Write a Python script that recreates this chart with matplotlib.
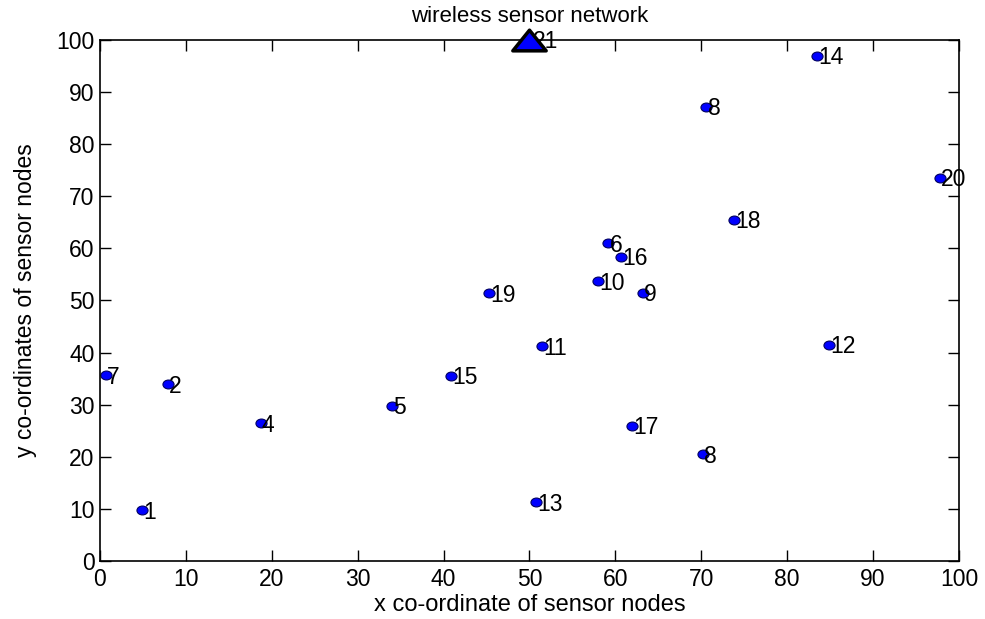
import numpy as np
import matplotlib
matplotlib.use("Agg")
import matplotlib.pyplot as plt
from matplotlib.path import Path

plt.rcParams['font.family'] = ['Liberation Sans', 'DejaVu Sans']

# coordenadas de los nodos sensores
node_x = [4.9, 7.9, 18.7, 34.0, 59.2, 0.7, 70.6, 63.2, 58.0, 51.5,
          84.9, 50.8, 83.5, 40.9, 60.7, 61.9, 73.8, 45.3, 97.8, 70.2]
node_y = [9.8, 33.9, 26.5, 29.8, 61.0, 35.7, 87.2, 51.5, 53.7, 41.2,
          41.5, 11.3, 97.0, 35.6, 58.4, 26.0, 65.5, 51.4, 73.6, 20.5]
node_labels = ['1', '2', '4', '5', '6', '7', '8', '9', '10', '11',
               '12', '13', '14', '15', '16', '17', '18', '19', '20', '8']

# estacion base
sink_x = [50]
sink_y = [100]
sink_label = '21'

fig = plt.figure(figsize=(9.85, 6.19), dpi=100)
ax = fig.add_axes([0.1015, 0.0937, 0.872, 0.8417])

# marcador elipse un poco aplastado, como en la figura original
ell = Path.unit_circle()
ell = Path(ell.vertices * np.array([1.0, 0.8]), ell.codes)
ax.plot(node_x, node_y, linestyle='none', marker=ell, color='blue',
        markeredgecolor='#000060', markersize=8, markeredgewidth=0.8)
for x, y, t in zip(node_x, node_y, node_labels):
    ax.text(x + 0.15, y - 0.4, t, ha='left', va='center', fontsize=16.5)

tri = Path([(-1, -0.62), (1, -0.62), (0, 0.62), (-1, -0.62)],
           [Path.MOVETO, Path.LINETO, Path.LINETO, Path.CLOSEPOLY])
ax.plot(sink_x, sink_y, linestyle='none', marker=tri, color='blue',
        markeredgecolor='black', markersize=24, markeredgewidth=2.5,
        clip_on=False, zorder=5)
ax.text(sink_x[0] + 0.4, sink_y[0] - 0.2, sink_label, ha='left',
        va='center', fontsize=16.5, zorder=4, clip_on=False)

ax.set_xlim(0, 100)
ax.set_ylim(0, 100)
ax.set_xticks(np.arange(0, 101, 10))
ax.set_yticks(np.arange(0, 101, 10))
ax.tick_params(direction='in', top=True, right=True, length=8,
               width=1.0, labelsize=16.5)
ax.tick_params(axis='x', pad=5)
ax.tick_params(axis='y', pad=4)
for s in ax.spines.values():
    s.set_linewidth(1.2)

ax.set_xlabel('x co-ordinate of sensor nodes', fontsize=17, labelpad=2)
ax.set_ylabel('y co-ordinates of sensor nodes', fontsize=16.5, labelpad=14)
ax.set_title('wireless sensor network', fontsize=16, pad=13)

fig.savefig('out.png', dpi=100)
